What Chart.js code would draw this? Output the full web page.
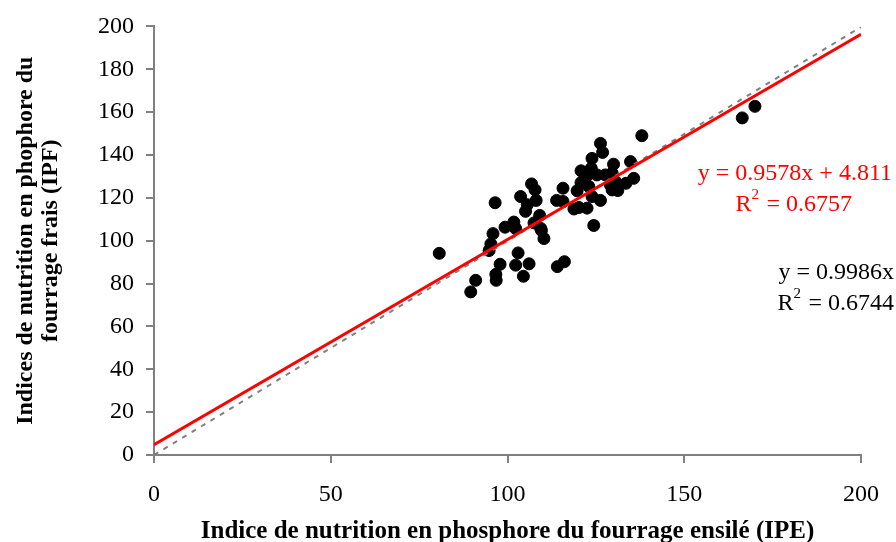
<!DOCTYPE html>
<html>
<head>
<meta charset="utf-8">
<script src="https://cdn.jsdelivr.net/npm/chart.js@4"></script>
<style>
  html, body { margin: 0; padding: 0; background: #fff; }
  #wrap { width: 896px; height: 542px; }
</style>
</head>
<body>
<div id="wrap"><canvas id="myChart"></canvas></div>
<script>
// data
const ipe = [80.7, 89.6, 91.0, 94.8, 95.3, 95.9, 96.5, 96.7, 96.8, 97.9,
  99.3, 101.8, 102.3, 102.3, 103.0, 103.7, 104.5, 105.1, 105.6, 106.1,
  106.8, 107.8, 108.1, 107.5, 109.1, 109.4, 110.3, 109.6, 113.9, 114.1,
  115.7, 115.7, 116.1, 118.8, 119.7, 120.2, 120.8, 120.8, 122.5, 122.5,
  123.0, 123.7, 123.9, 123.9, 124.4, 125.3, 126.3, 126.3, 126.9, 127.7,
  129.1, 129.6, 130.0, 130.5, 131.2, 129.6, 133.5, 134.8, 135.7, 138.0,
  166.4, 170.0];
const ipf = [94.1, 76.1, 81.5, 95.4, 98.5, 103.3, 117.7, 84.3, 81.5, 89.0,
  106.3, 108.7, 105.7, 88.6, 94.3, 120.6, 83.4, 113.7, 116.8, 89.2,
  126.5, 123.7, 118.8, 108.3, 111.8, 105.7, 101.0, 104.8, 118.8, 87.9,
  124.5, 118.3, 90.2, 114.8, 123.3, 115.5, 132.6, 127.1, 115.2, 130.3,
  125.3, 133.8, 138.4, 120.6, 107.1, 130.7, 145.4, 118.8, 141.2, 130.7,
  126.1, 123.7, 135.7, 127.6, 123.4, 131.5, 126.8, 136.9, 129.1, 149.0,
  157.3, 162.7];

// fitted lines: [slope, intercept]
const fitRed = [0.9578, 4.811];
const fitGrey = [0.9986, 0];
const xRange = [0, 200];

const xTicks = [0, 50, 100, 150, 200];
const yTicks = [0, 20, 40, 60, 80, 100, 120, 140, 160, 180, 200];

const serif = '"Liberation Serif", "Times New Roman", serif';

function lineOf(fit) {
  return xRange.map(x => ({ x: x, y: fit[0] * x + fit[1] }));
}

// equations written on the plot
const eqLabels = {
  id: 'eqLabels',
  afterDatasetsDraw(chart) {
    const ctx = chart.ctx;
    ctx.save();
    ctx.textBaseline = 'middle';
    ctx.font = '24px ' + serif;

    function r2(text, right, y, color) {
      ctx.fillStyle = color;
      ctx.textAlign = 'right';
      const w = ctx.measureText(text).width;
      ctx.fillText(text, right, y);
      const rw = ctx.measureText('R').width;
      ctx.textAlign = 'left';
      ctx.fillText('R', right - w - rw - 9, y);
      ctx.font = '15px ' + serif;
      ctx.fillText('2', right - w - 9, y - 10);
      ctx.font = '24px ' + serif;
    }

    ctx.fillStyle = '#ff0000';
    ctx.textAlign = 'right';
    ctx.fillText('y = 0.9578x + 4.811', 892, 174);
    r2(' = 0.6757', 852, 205, '#ff0000');

    ctx.fillStyle = '#000';
    ctx.textAlign = 'right';
    ctx.fillText('y = 0.9986x', 894, 273);
    r2(' = 0.6744', 894, 304, '#000');
    ctx.restore();
  }
};

const config = {
  type: 'scatter',
  data: {
    datasets: [
      {
        label: 'points',
        data: ipe.map((x, i) => ({ x: x, y: ipf[i] })),
        backgroundColor: '#000',
        borderColor: '#000',
        pointRadius: 6,
        pointHoverRadius: 6,
        order: 3
      },
      {
        type: 'line',
        label: 'y = 0.9986x',
        data: lineOf(fitGrey),
        borderColor: '#808080',
        borderWidth: 2,
        borderDash: [5, 6],
        pointRadius: 0,
        fill: false,
        order: 2
      },
      {
        type: 'line',
        label: 'y = 0.9578x + 4.811',
        data: lineOf(fitRed),
        borderColor: '#ff0000',
        borderWidth: 3,
        pointRadius: 0,
        fill: false,
        order: 1
      }
    ]
  },
  options: {
    responsive: true,
    maintainAspectRatio: false,
    animation: false,
    layout: { padding: { left: 0, right: 33, top: 24, bottom: 0 } },
    plugins: {
      legend: { display: false },
      tooltip: { enabled: false }
    },
    scales: {
      x: {
        type: 'linear',
        min: 0,
        max: 200,
        afterBuildTicks(axis) { axis.ticks = xTicks.map(v => ({ value: v })); },
        afterFit(axis) { axis.height = 87; },
        border: { color: '#808080', width: 2 },
        grid: { drawOnChartArea: false, drawTicks: true, tickLength: 8, color: '#808080', lineWidth: 2 },
        ticks: { color: '#000', font: { family: serif, size: 24 }, padding: 17, maxRotation: 0 },
        title: {
          display: true,
          text: 'Indice de nutrition en phosphore du fourrage ensilé (IPE)',
          color: '#000',
          font: { family: serif, size: 25, weight: 'bold' },
          padding: { top: 4, bottom: -5 }
        }
      },
      y: {
        type: 'linear',
        min: 0,
        max: 200,
        afterBuildTicks(axis) { axis.ticks = yTicks.map(v => ({ value: v })); },
        afterFit(axis) { axis.width = 154; },
        border: { color: '#808080', width: 2 },
        grid: { drawOnChartArea: false, drawTicks: true, tickLength: 8, color: '#808080', lineWidth: 2 },
        ticks: { color: '#000', font: { family: serif, size: 24 }, padding: 12 },
        title: {
          display: true,
          text: ['Indices de nutrition en phophore du', 'fourrage frais (IPF)'],
          color: '#000',
          font: { family: serif, size: 24, weight: 'bold', lineHeight: 1.05 },
          padding: { top: 13, bottom: 0 }
        }
      }
    }
  },
  plugins: [eqLabels]
};

const myChart = new Chart(document.getElementById('myChart'), config);
</script>
</body>
</html>
